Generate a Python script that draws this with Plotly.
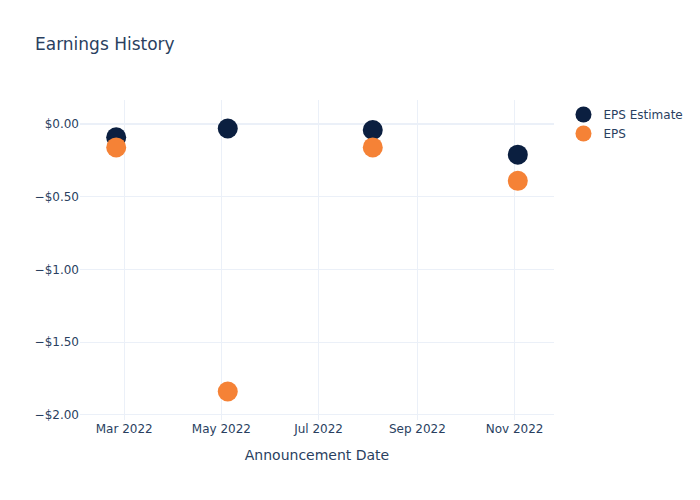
import plotly.graph_objects as go

dates = ["2022-02-24", "2022-05-05", "2022-08-04", "2022-11-03"]
eps_estimate = [-0.09, -0.03, -0.04, -0.21]
eps_actual = [-0.16, -1.84, -0.16, -0.39]

fig = go.Figure()
fig.add_trace(go.Scatter(x=dates, y=eps_estimate, mode="markers", name="EPS Estimate",
                         marker=dict(color="#0b1f40", size=20)))
fig.add_trace(go.Scatter(x=dates, y=eps_actual, mode="markers", name="EPS",
                         marker=dict(color="#f58236", size=20)))
fig.update_layout(
    template="plotly_white",
    font=dict(family="DejaVu Sans"),
    title=dict(text="Earnings History"),
    xaxis_title="Announcement Date",
    yaxis=dict(tickformat="$.2f"),
    width=700, height=500,
)
fig.write_html("out.html")
